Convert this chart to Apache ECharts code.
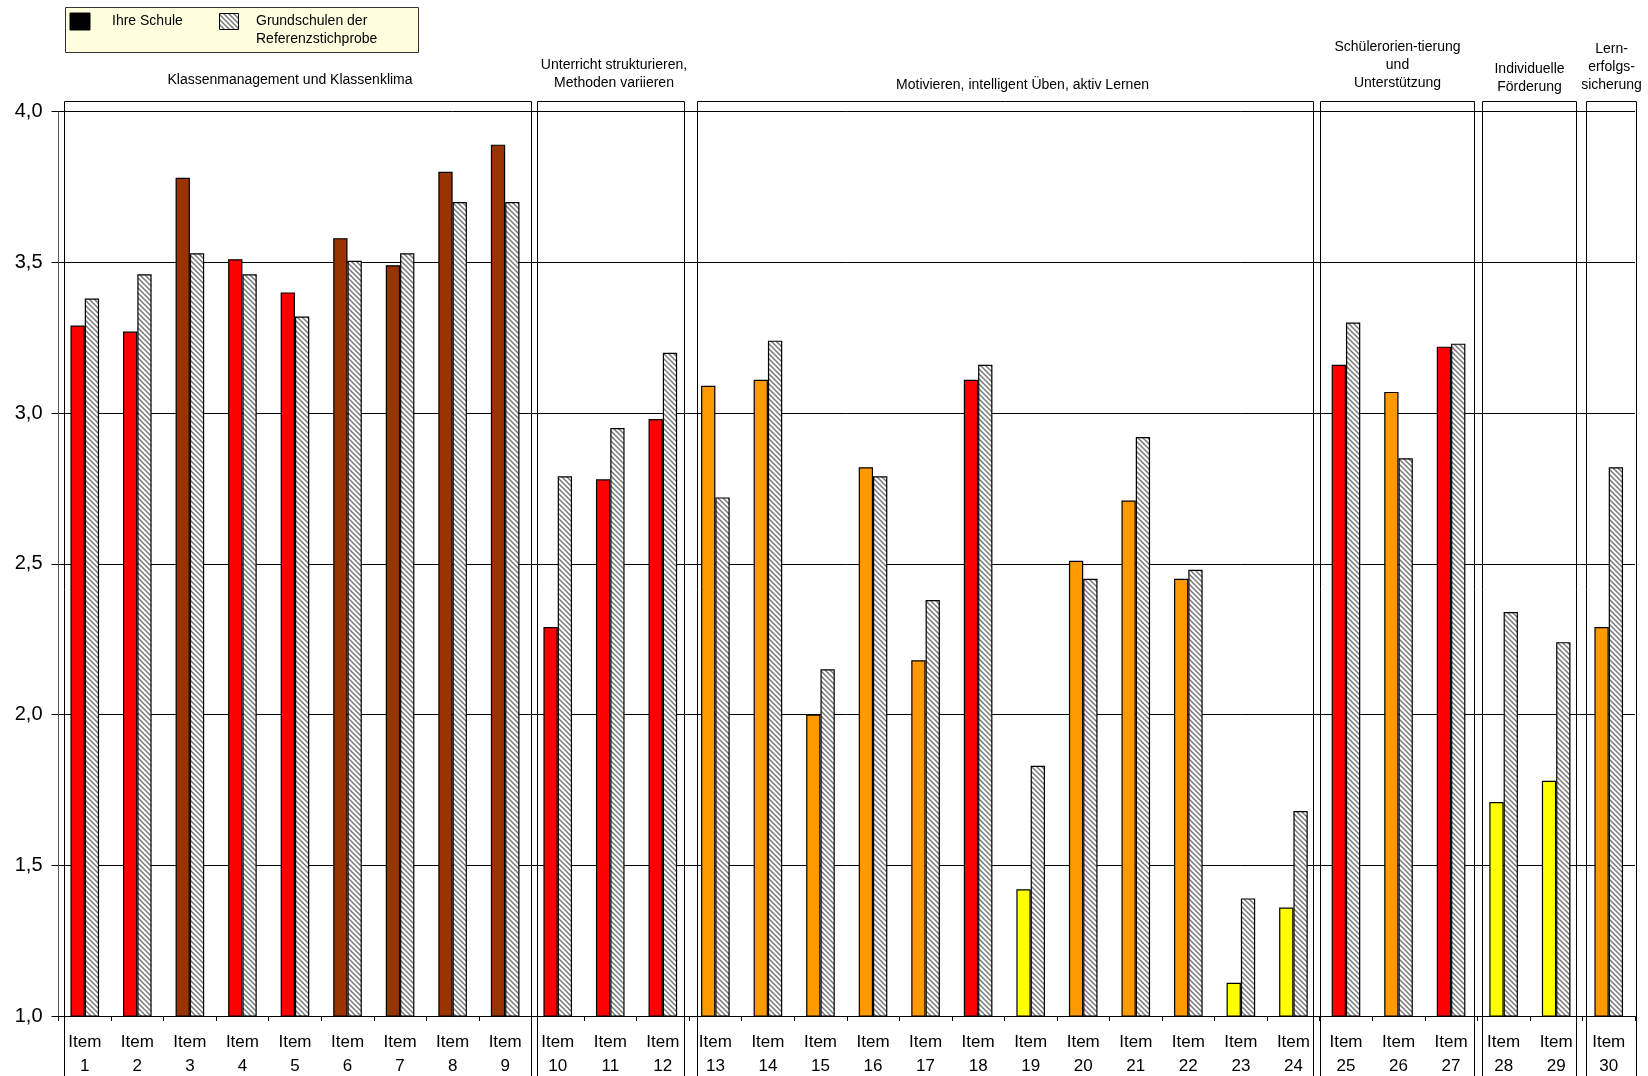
<!DOCTYPE html>
<html>
<head>
<meta charset="utf-8">
<script src="https://cdn.jsdelivr.net/npm/echarts@6/dist/echarts.min.js"></script>
<style>
  html, body { margin: 0; padding: 0; background: #ffffff; }
  #chart { width: 1648px; height: 1076px; }
</style>
</head>
<body>
<div id="chart"></div>
<script>
// ---- data ----
const itemLabels = [
  'Item 1', 'Item 2', 'Item 3', 'Item 4', 'Item 5', 'Item 6', 'Item 7', 'Item 8', 'Item 9', 'Item 10',
  'Item 11', 'Item 12', 'Item 13', 'Item 14', 'Item 15', 'Item 16', 'Item 17', 'Item 18', 'Item 19', 'Item 20',
  'Item 21', 'Item 22', 'Item 23', 'Item 24', 'Item 25', 'Item 26', 'Item 27', 'Item 28', 'Item 29', 'Item 30'
];
const schoolValues = [
  3.29, 3.27, 3.78, 3.51, 3.40, 3.58, 3.49, 3.80, 3.89,
  2.29, 2.78, 2.98,
  3.09, 3.11, 2.00, 2.82, 2.18, 3.11, 1.42, 2.51, 2.71, 2.45, 1.11, 1.36,
  3.16, 3.07, 3.22,
  1.71, 1.78,
  2.29
];
const referenceValues = [
  3.38, 3.46, 3.53, 3.46, 3.32, 3.505, 3.53, 3.70, 3.70,
  2.79, 2.95, 3.20,
  2.72, 3.24, 2.15, 2.79, 2.38, 3.16, 1.83, 2.45, 2.92, 2.48, 1.39, 1.68,
  3.30, 2.85, 3.23,
  2.34, 2.24,
  2.82
];
// rating tier of the school value per item (4 = highest, 1 = lowest)
const schoolTiers = [
  3, 3, 4, 3, 3, 4, 4, 4, 4,
  3, 3, 3,
  2, 2, 2, 2, 2, 3, 1, 2, 2, 2, 1, 1,
  3, 2, 3,
  1, 1,
  2
];
const seriesNames = ['Ihre Schule', 'Grundschulen der\nReferenzstichprobe'];
const groupTitles = [
  'Klassenmanagement und Klassenklima',
  'Unterricht strukturieren,\nMethoden variieren',
  'Motivieren, intelligent Üben, aktiv Lernen',
  'Schülerorien-tierung\nund\nUnterstützung',
  'Individuelle\nFörderung',
  'Lern-\nerfolgs-\nsicherung'
];
const groupSizes = [9, 3, 12, 3, 2, 1];
const yMin = 1.0, yMax = 4.0, yStep = 0.5;

// ---- styles ----
const FONT = '"Liberation Sans", Arial, sans-serif';
const tierColors = { 4: '#993300', 3: '#FF0000', 2: '#FF9900', 1: '#FFFF00' };
// left/right inset of each group frame from its category boundaries (px)
const boxInsets = [[5.5, 0], [5.5, 5], [8, 6.5], [0.5, 3], [5, 6.5], [4, -1]];
// horizontal / vertical nudge of each group title (px)
const titleShifts = [[-8, -3], [3, 0], [17, 2], [0, 0], [0, 4], [0, 2]];
const BOX_TOP = 101.5;
const TITLE_BOTTOM = 92;

function makeHatch() {
  const s = 5;
  const cv = document.createElement('canvas');
  cv.width = s; cv.height = s;
  const ctx = cv.getContext('2d');
  ctx.fillStyle = '#ffffff';
  ctx.fillRect(0, 0, s, s);
  ctx.strokeStyle = '#787878';
  ctx.lineWidth = 1.5;
  ctx.beginPath();
  ctx.moveTo(-1, -1); ctx.lineTo(s + 1, s + 1);
  ctx.moveTo(-1, s - 1); ctx.lineTo(1, s + 1);
  ctx.moveTo(s - 1, -1); ctx.lineTo(s + 1, 1);
  ctx.stroke();
  return cv;
}
const hatch = { image: makeHatch(), repeat: 'repeat' };

const chart = echarts.init(document.getElementById('chart'), null, { renderer: 'canvas' });

const option = {
  animation: false,
  backgroundColor: '#ffffff',
  textStyle: { fontFamily: FONT },
  grid: {
    left: 58.5, right: 13, top: 111.5, bottom: 60,
    containLabel: false,
    outerBoundsMode: 'none'
  },
  xAxis: {
    type: 'category',
    data: itemLabels,
    axisLine: { show: true, onZero: false, lineStyle: { color: '#000', width: 1 } },
    axisTick: { show: true, interval: 0, length: 5, inside: false, lineStyle: { color: '#000' } },
    axisLabel: {
      interval: 0,
      margin: 14,
      fontFamily: FONT,
      fontSize: 17,
      lineHeight: 24,
      color: '#000',
      formatter: v => v.replace(' ', '\n')
    },
    splitLine: { show: false }
  },
  yAxis: {
    type: 'value',
    min: yMin, max: yMax, interval: yStep,
    axisLine: { show: true, lineStyle: { color: '#555', width: 1 } },
    axisTick: { show: true, length: 7, lineStyle: { color: '#000' } },
    axisLabel: {
      margin: 16,
      fontFamily: FONT,
      fontSize: 20,
      color: '#000',
      formatter: v => v.toFixed(1).replace('.', ',')
    },
    splitLine: { show: true, lineStyle: { color: '#000', width: 1 } }
  },
  series: [
    {
      name: seriesNames[0],
      type: 'bar',
      barWidth: 14.3,
      barGap: '0%',
      itemStyle: { color: '#000', borderColor: '#000', borderWidth: 1.2 },
      data: schoolValues.map((v, i) => ({ value: v, itemStyle: { color: tierColors[schoolTiers[i]] } })),
      z: 3
    },
    {
      name: seriesNames[1],
      type: 'bar',
      barWidth: 14.3,
      barGap: '0%',
      itemStyle: { color: hatch, borderColor: '#000', borderWidth: 1.2 },
      data: referenceValues,
      z: 3
    }
  ]
};
chart.setOption(option);

// ---- legend, group frames and group titles ----
const c0 = chart.convertToPixel({ xAxisIndex: 0 }, 0);
const bw = chart.convertToPixel({ xAxisIndex: 0 }, 1) - c0;
const crisp = x => Math.round(x) + 0.5;
const graphics = [];

// legend box
graphics.push({ type: 'rect', silent: true, z: 60, shape: { x: 65.5, y: 7.5, width: 353, height: 45 },
  style: { fill: '#FFFFE0', stroke: '#333', lineWidth: 1 } });
graphics.push({ type: 'rect', silent: true, z: 61, shape: { x: 70, y: 13, width: 20, height: 17 },
  style: { fill: '#000', stroke: '#000', lineWidth: 1 } });
graphics.push({ type: 'text', silent: true, z: 61, x: 112, y: 21,
  style: { text: seriesNames[0], font: '14px ' + FONT, fill: '#000', verticalAlign: 'middle' } });
graphics.push({ type: 'rect', silent: true, z: 61, shape: { x: 219.5, y: 13.5, width: 19, height: 16 },
  style: { fill: hatch, stroke: '#000', lineWidth: 1 } });
graphics.push({ type: 'text', silent: true, z: 61, x: 256, y: 12,
  style: { text: seriesNames[1], font: '14px ' + FONT, fill: '#000', lineHeight: 18, verticalAlign: 'top' } });

let start = 0;
groupSizes.forEach((n, g) => {
  const x0 = crisp(c0 - bw / 2 + start * bw + boxInsets[g][0]);
  const x1 = crisp(c0 - bw / 2 + (start + n) * bw - boxInsets[g][1]);
  graphics.push({
    type: 'rect', silent: true, z: 50,
    shape: { x: x0, y: BOX_TOP, width: x1 - x0, height: 1100 },
    style: { fill: 'none', stroke: '#000', lineWidth: 1 }
  });
  graphics.push({
    type: 'text', silent: true, z: 50,
    x: (x0 + x1) / 2 + titleShifts[g][0], y: TITLE_BOTTOM + titleShifts[g][1],
    style: {
      text: groupTitles[g], font: '14px ' + FONT, fill: '#000',
      align: 'center', verticalAlign: 'bottom', lineHeight: 18
    }
  });
  start += n;
});

chart.setOption({ graphic: graphics });
</script>
</body>
</html>
